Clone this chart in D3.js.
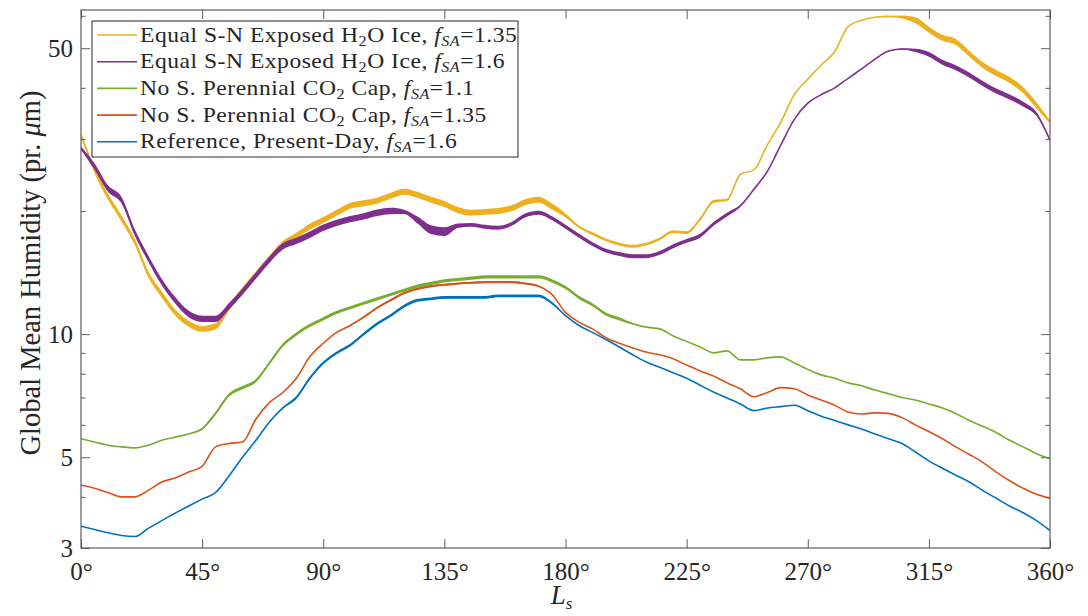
<!DOCTYPE html>
<html>
<head>
<meta charset="utf-8">
<script src="https://cdn.jsdelivr.net/npm/d3@7"></script>
<style>
  html, body { margin: 0; padding: 0; background: #fff; overflow: hidden; }
  svg { display: block; }
  text { fill: #262626; }
</style>
</head>
<body>
<svg></svg>
<script>
// solar longitude grid (deg)
const ls = [0,5,10,15,20,25,30,35,40,45,50,55,60,65,70,75,80,85,90,95,100,105,110,115,120,125,130,135,140,145,150,155,160,165,170,175,180,185,190,195,200,205,210,215,220,225,230,235,240,245,250,255,260,265,270,275,280,285,290,295,300,305,310,315,320,325,330,335,340,345,350,355,360];

const reference = [3.39,3.33,3.27,3.22,3.2,3.35,3.5,3.65,3.8,3.95,4.1,4.5,5.0,5.5,6.1,6.6,7.0,7.8,8.5,9.0,9.4,10.0,10.6,11.1,11.7,12.1,12.2,12.3,12.3,12.3,12.3,12.4,12.4,12.4,12.4,11.9,11.1,10.5,10.1,9.7,9.3,8.9,8.55,8.3,8.05,7.8,7.5,7.22,6.98,6.75,6.5,6.6,6.65,6.7,6.5,6.3,6.15,6.0,5.86,5.7,5.55,5.4,5.15,4.9,4.7,4.52,4.35,4.15,3.97,3.8,3.66,3.5,3.31];
const noCap135 = [4.27,4.2,4.1,4.0,4.0,4.15,4.35,4.45,4.6,4.75,5.3,5.4,5.45,6.2,6.8,7.2,7.8,8.8,9.5,10.1,10.5,11.0,11.6,12.1,12.6,12.9,13.1,13.2,13.3,13.35,13.4,13.4,13.4,13.3,13.1,12.5,11.3,10.7,10.3,9.8,9.5,9.25,9.04,8.9,8.7,8.4,8.13,7.9,7.6,7.35,7.03,7.2,7.4,7.35,7.1,6.9,6.7,6.45,6.38,6.42,6.4,6.25,6.0,5.78,5.55,5.3,5.08,4.86,4.6,4.38,4.2,4.06,3.97];
const noCap11 = [5.55,5.45,5.35,5.3,5.27,5.35,5.5,5.6,5.7,5.87,6.4,7.1,7.4,7.7,8.5,9.4,10.0,10.5,10.9,11.3,11.6,11.9,12.2,12.5,12.8,13.1,13.3,13.5,13.6,13.7,13.8,13.8,13.8,13.8,13.8,13.5,13.0,12.3,11.8,11.2,10.9,10.6,10.4,10.3,9.9,9.6,9.3,9.0,9.1,8.65,8.65,8.75,8.8,8.5,8.2,7.95,7.8,7.6,7.48,7.3,7.15,7.0,6.9,6.75,6.6,6.4,6.15,5.95,5.75,5.5,5.3,5.1,4.96];
const equalIce135 = [30.7,25.2,21.7,19.2,16.8,14.0,12.5,11.3,10.6,10.3,10.45,11.6,12.8,14.0,15.3,16.6,17.4,18.3,19.0,19.8,20.6,20.9,21.2,21.8,22.3,21.9,21.3,20.8,20.1,19.8,19.9,20.0,20.3,21.0,21.3,20.5,19.5,18.3,17.6,17.0,16.6,16.4,16.6,17.1,17.8,17.7,19.1,21.1,21.3,24.6,25.2,29.0,33.0,38.5,42.0,45.5,49.0,56.5,58.5,59.5,59.8,59.6,58.5,55.5,53.0,51.8,48.5,45.5,43.5,41.8,39.5,36.2,33.0];
const equalIce16 = [28.5,25.7,22.7,21.3,17.7,15.3,13.4,12.1,11.2,10.9,10.9,11.7,12.7,13.9,15.2,16.4,16.9,17.5,18.2,18.7,19.1,19.4,19.8,20.0,19.9,19.0,18.0,17.8,18.4,18.5,18.3,18.2,18.6,19.5,19.8,19.2,18.3,17.4,16.6,16.0,15.7,15.5,15.5,15.8,16.4,16.9,17.4,18.6,19.6,20.6,22.6,25.0,29.0,33.5,36.7,38.5,40.0,42.2,44.5,47.0,49.2,49.8,49.4,48.3,46.2,44.8,43.0,41.0,39.3,38.0,36.5,34.5,29.8];

// day-to-day scatter of each run: [from Ls, to Ls, relative spread]
const refNoise = [[75, 178, 0.008]];
const noCap135Noise = [[100, 172, 0.006]];
const noCap11Noise = [[45, 205, 0.009]];
const equalIce135Noise = [[0, 182, 0.017], [182, 242, 0.008], [305, 360, 0.017]];
const equalIce16Noise = [[0, 122, 0.018], [122, 140, 0.025], [140, 245, 0.011], [308, 358, 0.014]];

const xTicks = [0,45,90,135,180,225,270,315,360];
const yTicks = [3,5,10,50];
const yMinor = [4,6,7,8,9,20,30,40,60];

// draw order (first = bottom)
const series = [
  { vals: reference,   noise: refNoise,         color: "#0072BD" },
  { vals: noCap135,    noise: noCap135Noise,    color: "#D95319" },
  { vals: noCap11,     noise: noCap11Noise,     color: "#77AC30" },
  { vals: equalIce135, noise: equalIce135Noise, color: "#EDB120" },
  { vals: equalIce16,  noise: equalIce16Noise,  color: "#7E2F8E" }
];

// legend rows (top to bottom)
const legendRows = [
  { color: "#EDB120", pre: "Equal S-N Exposed H", sub: "2", mid: "O Ice, ", f: "1.35" },
  { color: "#7E2F8E", pre: "Equal S-N Exposed H", sub: "2", mid: "O Ice, ", f: "1.6" },
  { color: "#77AC30", pre: "No S. Perennial CO", sub: "2", mid: " Cap, ", f: "1.1" },
  { color: "#D95319", pre: "No S. Perennial CO", sub: "2", mid: " Cap, ", f: "1.35" },
  { color: "#0072BD", pre: "Reference, Present-Day, ", sub: "", mid: "", f: "1.6" }
];

const w = 1088, h = 616;
const margin = { top: 10, bottom: 68, left: 81, right: 38 };
const innerWidth = w - margin.left - margin.right;
const innerHeight = h - margin.top - margin.bottom;
const serif = "'Liberation Serif', 'DejaVu Serif', serif";

const svg = d3.select("svg").attr("width", w).attr("height", h);
svg.append("rect").attr("width", w).attr("height", h).attr("fill", "#fff");

const g = svg.append("g").attr("transform", `translate(${margin.left},${margin.top})`);

const xScale = d3.scaleLinear().domain([0, 360]).range([0, innerWidth]);
const yScale = d3.scaleLog().domain([3, 62]).range([innerHeight, 0]);

g.append("clipPath").attr("id", "clip")
  .append("rect").attr("width", innerWidth).attr("height", innerHeight);

// spread at a given Ls, softened over a few degrees at the span ends
function spreadAt(x, spans) {
  let n = 0;
  spans.forEach(([a, b, s]) => {
    const f = Math.max(0, Math.min(1, (Math.min(x - a, b - x) + 5) / 10));
    n = Math.max(n, s * f);
  });
  return n;
}

const line = d3.line()
  .x(d => xScale(d.x))
  .y(d => yScale(d.y))
  .curve(d3.curveMonotoneX);

const band = d3.area()
  .x(d => xScale(d.x))
  .y0(d => yScale(d.y / (1 + d.n)))
  .y1(d => yScale(d.y * (1 + d.n)))
  .curve(d3.curveMonotoneX);

const lines = g.append("g").attr("clip-path", "url(#clip)");
series.forEach(s => {
  const pts = s.vals.map((v, i) => ({ x: ls[i], y: v, n: spreadAt(ls[i], s.noise) }));
  lines.append("path")
    .datum(pts)
    .attr("d", band)
    .attr("fill", s.color)
    .attr("stroke", "none");
  lines.append("path")
    .datum(pts)
    .attr("d", line)
    .attr("fill", "none")
    .attr("stroke", s.color)
    .attr("stroke-width", 1.6)
    .attr("stroke-linejoin", "round");
});

// axes: ticks inward, on all four sides
const axisColor = "#5e5e5e";
function styleAxis(sel) {
  sel.select(".domain").remove();
  sel.selectAll(".tick line").attr("stroke", axisColor).attr("stroke-width", 1);
}

g.append("g").attr("transform", `translate(0,${innerHeight})`)
  .call(d3.axisBottom(xScale).tickValues(xTicks).tickSize(-9).tickPadding(14).tickFormat(d => d + "°"))
  .call(styleAxis)
  .selectAll("text").style("font-family", serif).attr("font-size", 25).attr("fill", "#262626");

g.append("g")
  .call(d3.axisTop(xScale).tickValues(xTicks).tickSize(-9).tickFormat(""))
  .call(styleAxis);

g.append("g")
  .call(d3.axisLeft(yScale).tickValues(yTicks).tickSize(-9).tickPadding(8).tickFormat(d3.format("d")))
  .call(styleAxis)
  .selectAll("text").style("font-family", serif).attr("font-size", 25).attr("fill", "#262626");

g.append("g").attr("transform", `translate(${innerWidth},0)`)
  .call(d3.axisRight(yScale).tickValues(yTicks).tickSize(-9).tickFormat(""))
  .call(styleAxis);

g.append("g")
  .call(d3.axisLeft(yScale).tickValues(yMinor).tickSize(-4.5).tickFormat(""))
  .call(styleAxis);
g.append("g").attr("transform", `translate(${innerWidth},0)`)
  .call(d3.axisRight(yScale).tickValues(yMinor).tickSize(-4.5).tickFormat(""))
  .call(styleAxis);

// frame
g.append("rect")
  .attr("width", innerWidth).attr("height", innerHeight)
  .attr("fill", "none").attr("stroke", axisColor).attr("stroke-width", 1.2);

// axis labels
svg.append("text")
  .attr("x", margin.left + innerWidth / 2 - 4)
  .attr("y", 604)
  .attr("text-anchor", "middle")
  .style("font-family", serif)
  .attr("font-size", 27)
  .attr("font-style", "italic")
  .text("L")
  .append("tspan").attr("font-size", 17).attr("dy", 5).text("s");

const ylab = svg.append("text")
  .attr("transform", "translate(40,273)rotate(-90)")
  .attr("text-anchor", "middle")
  .style("font-family", serif)
  .attr("font-size", 28.5);
ylab.append("tspan").text("Global Mean Humidity (pr. ");
ylab.append("tspan").attr("font-style", "italic").text("μ");
ylab.append("tspan").text("m)");

// legend
const leg = svg.append("g").attr("transform", "translate(92,21)");
leg.append("rect")
  .attr("width", 426).attr("height", 136)
  .attr("fill", "#fff").attr("stroke", "#262626").attr("stroke-width", 1);

legendRows.forEach((r, i) => {
  const y = 14 + i * 26.7;
  leg.append("line")
    .attr("x1", 5).attr("x2", 45).attr("y1", y).attr("y2", y)
    .attr("stroke", r.color).attr("stroke-width", 1.6);
  // computer-modern-like wide serif: stretch Liberation Serif a little
  const t = leg.append("text")
    .attr("transform", `translate(48,${y + 6.5})scale(1.15,1)`)
    .style("font-family", serif)
    .style("letter-spacing", "0.45px")
    .attr("font-size", 20.5);
  t.append("tspan").text(r.pre);
  if (r.sub) {
    t.append("tspan").attr("font-size", 14).attr("dy", 4).text(r.sub);
    t.append("tspan").attr("dy", -4).text(r.mid);
  }
  t.append("tspan").attr("font-style", "italic").text("f");
  t.append("tspan").attr("font-style", "italic").attr("font-size", 14).attr("dy", 4).text("SA");
  t.append("tspan").attr("dy", -4).text("=" + r.f);
});
</script>
</body>
</html>
